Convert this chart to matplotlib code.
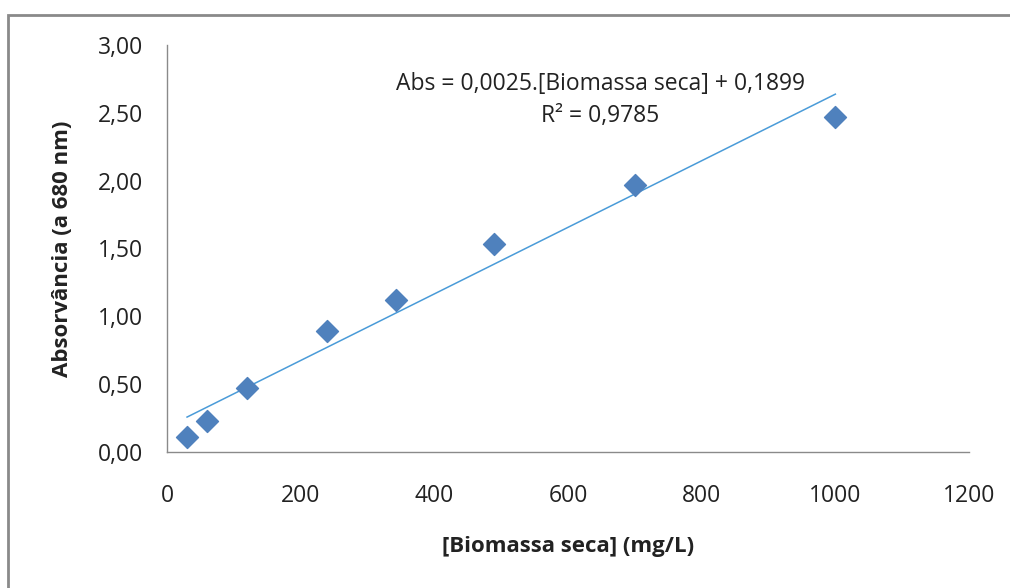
import numpy as np
import matplotlib.pyplot as plt

# dry biomass calibration (mg/L) vs absorbance at 680 nm
biomassa = [30, 60, 120, 240, 343, 490, 700, 1000]
absorbancia = [0.11, 0.23, 0.47, 0.89, 1.12, 1.53, 1.97, 2.47]
x_ticks = [0, 200, 400, 600, 800, 1000, 1200]
y_ticks = [0.0, 0.5, 1.0, 1.5, 2.0, 2.5, 3.0]

plt.rcParams["font.family"] = ["Open Sans", "DejaVu Sans"]

fig = plt.figure(figsize=(10.1, 5.88), dpi=100)
ax = fig.add_axes([167 / 1010, 1 - 452 / 588, (969 - 167) / 1010, (452 - 45) / 588])

# outer chart frame
fig.add_artist(plt.Rectangle((8 / 1010, -0.05), 1.1, 1 - 15 / 588 + 0.05,
                             transform=fig.transFigure, fill=False,
                             edgecolor="#8a8a8a", linewidth=2))

ax.scatter(biomassa, absorbancia, marker="D", s=125, color="#4f81bd",
           edgecolors="#4f81bd", zorder=3)

slope, intercept = np.polyfit(biomassa, absorbancia, 1)
xs = np.array([biomassa[0], biomassa[-1]])
ax.plot(xs, slope * xs + intercept, color="#4a9bd8", linewidth=1.1, zorder=2)

ax.text(648, 2.71, "Abs = 0,0025.[Biomassa seca] + 0,1899",
        ha="center", va="center", fontsize=16.5, color="#222222")
ax.text(648, 2.48, "R² = 0,9785", ha="center", va="center",
        fontsize=16.5, color="#222222")

ax.set_xlim(0, 1200)
ax.set_ylim(0, 3.0)
ax.set_xticks(x_ticks)
ax.set_xticklabels([str(t) for t in x_ticks])
ax.set_yticks(y_ticks)
ax.set_yticklabels([f"{t:.2f}".replace(".", ",") for t in y_ticks])
ax.tick_params(length=0, labelsize=16.5, colors="#222222")
ax.tick_params(axis="x", pad=23)
ax.tick_params(axis="y", pad=17)

for side in ("top", "right"):
    ax.spines[side].set_visible(False)
for side in ("left", "bottom"):
    ax.spines[side].set_color("#8a8a8a")
    ax.spines[side].set_linewidth(1.0)

ax.set_xlabel("[Biomassa seca] (mg/L)", fontsize=16, fontweight="bold",
              labelpad=20, color="#222222")
ax.set_ylabel("Absorvância (a 680 nm)", fontsize=16, fontweight="bold",
              labelpad=18, color="#222222")

fig.savefig("out.png", dpi=100)
